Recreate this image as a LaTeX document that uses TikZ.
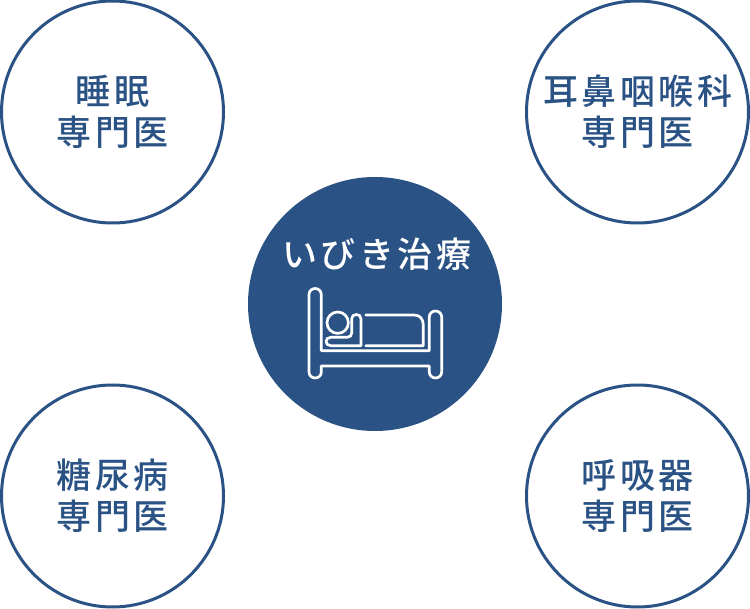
\documentclass[tikz,border=0pt]{standalone}
\usepackage{fontspec}
\newfontfamily\cjk[LetterSpace=10]{Noto Sans CJK JP Medium}
\definecolor{navy}{HTML}{2A5285}
\tikzset{
  spec/.style={circle,draw=navy,line width=3pt,minimum size=222pt,inner sep=0pt,align=center,text=navy,font=\cjk\fontsize{35}{41}\selectfont},
  center/.style={circle,fill=navy,minimum size=254pt,inner sep=0pt},
  title/.style={text=white,inner sep=0pt,font=\cjk\fontsize{35}{41}\selectfont},
  bedline/.style={draw=white,line width=2.7pt,line cap=round,line join=round}
}
\begin{document}
\begin{tikzpicture}[x=1pt,y=-1pt]
\useasboundingbox (0,0) rectangle (750,609);
\node[spec] (a) at (112.5,112) {睡眠\\専門医};
\node[spec] (b) at (637.5,112) {耳鼻咽喉科\\専門医};
\node[spec] (c) at (112.5,496) {糖尿病\\専門医};
\node[spec] (d) at (637.5,496) {呼吸器\\専門医};
\node[center] (m) at (375,304) {};
\node[title] (t) at (376.5,254.5) {いびき治療};
\draw[bedline] (321.3,350.7) -- (321.3,294.7) .. controls (321.3,291) and (318.5,288.5) .. (315.2,288.5) .. controls (311.8,288.5) and (309,291) .. (309,294.7) -- (309,372) .. controls (309,375.5) and (311.8,378) .. (315.2,378) .. controls (318.5,378) and (321.3,375.5) .. (321.3,372) -- (321.3,366) -- (429.3,366) -- (429.3,372) .. controls (429.3,375.5) and (432.2,378) .. (435.5,378) .. controls (438.8,378) and (441.7,375.5) .. (441.7,372) -- (441.7,317) .. controls (441.7,313.5) and (438.8,311) .. (435.5,311) .. controls (432.2,311) and (429.3,313.5) .. (429.3,317) -- (429.3,350.7) -- cycle;
\draw[bedline] (337.7,322.7) circle (10.7);
\draw[bedline] (331,337.3) -- (347,337.3) .. controls (350,337.3) and (351.7,335.5) .. (351.7,333) -- (351.7,319) .. controls (351.7,316) and (353.5,314.5) .. (356.3,314.5) .. controls (359,314.5) and (361,316) .. (361,319) -- (361,345.7) -- (331,345.7) .. controls (328,345.7) and (326,344) .. (326,341.5) .. controls (326,339) and (328,337.3) .. (331,337.3) -- cycle;
\draw[bedline] (365.7,315) -- (414,315) .. controls (420,315) and (423.3,319) .. (423.3,325) -- (423.3,345.7) -- (365.7,345.7);
\end{tikzpicture}
\end{document}
